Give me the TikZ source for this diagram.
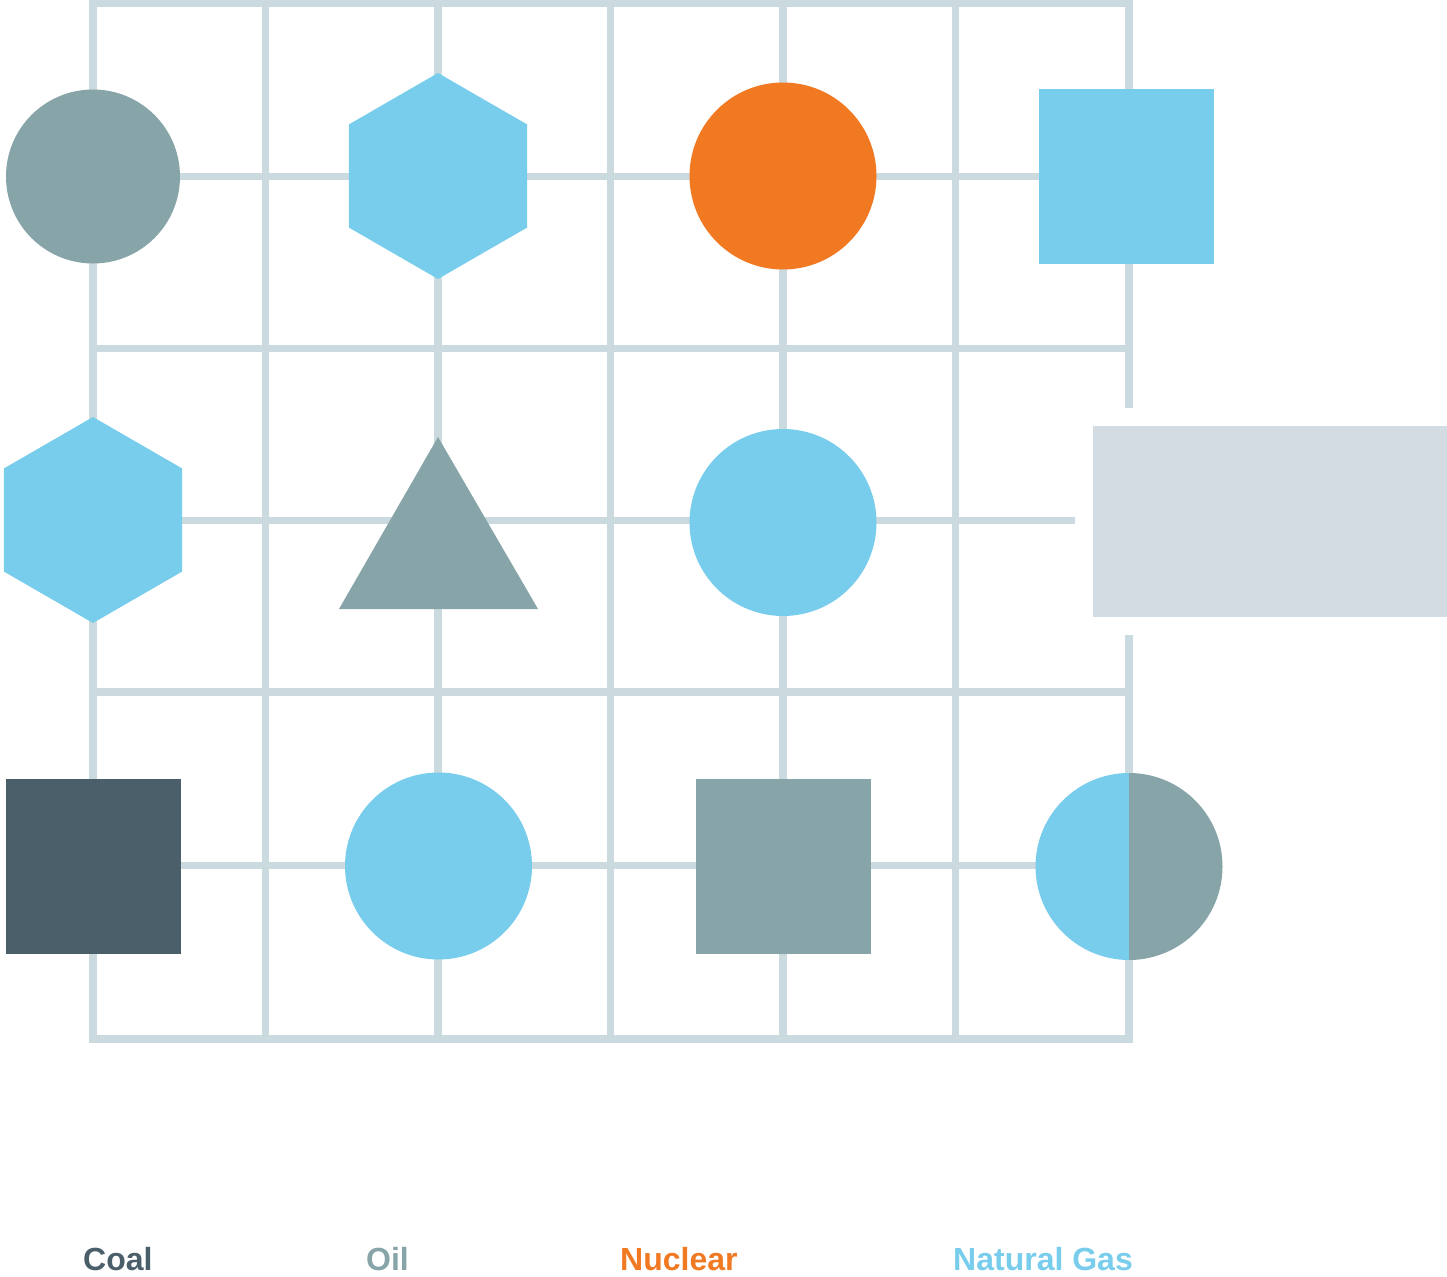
\documentclass[tikz,border=0pt]{standalone}
\usepackage{fontspec}
\setmainfont{Liberation Sans}
\definecolor{coalc}{HTML}{4B5F6A}
\definecolor{oilc}{HTML}{87A5A8}
\definecolor{nucc}{HTML}{F07922}
\definecolor{gasc}{HTML}{78CDEC}
\definecolor{gridc}{HTML}{CBDADF}
\definecolor{boxc}{HTML}{D3DBE3}
\begin{document}
\begin{tikzpicture}[x=1pt,y=-1pt,
  gridline/.style={draw=gridc,line width=7.5pt,line join=miter},
  disc/.style={circle,inner sep=0pt,outer sep=0pt,draw=none,fill=#1},
  sq/.style={rectangle,inner sep=0pt,outer sep=0pt,draw=none,minimum size=175pt,fill=#1},
  legend/.style={anchor=base west,inner sep=0pt,font=\fontsize{32}{38}\selectfont\bfseries,text=#1}]
\useasboundingbox (0,0) rectangle (1447,1276);
% grid
\draw[gridline] (1129,408) -- (1129,3.5) -- (93,3.5) -- (93,1039) -- (1129,1039) -- (1129,635);
\foreach \x in {265.5,438,610.5,783,955.5}
  \draw[gridline] (\x,3.5) -- (\x,1039);
\foreach \y in {176.5,348.5,692,865.5}
  \draw[gridline] (93,\y) -- (1129,\y);
\draw[gridline] (93,520.5) -- (1075,520.5);
% row 1
\node[disc=oilc,minimum size=174pt] (c1) at (93,176.5) {};
\fill[gasc] (438,73)
  \foreach \a in {0,...,4} { -- ++({30+60*\a}:103) } -- cycle;
\coordinate (h1) at (438,176);
\node[disc=nucc,minimum size=187pt] (n1) at (783,176) {};
\node[sq=gasc] (s1) at (1126.5,176.5) {};
% row 2
\fill[gasc] (93,417)
  \foreach \a in {0,...,4} { -- ++({30+60*\a}:103) } -- cycle;
\coordinate (h2) at (93,520);
\fill[oilc] (438,437) -- (538,609) -- (339,609) -- cycle;
\coordinate (t2) at (438,551);
\node[disc=gasc,minimum size=187pt] (g2) at (783,522.5) {};
\node[rectangle,inner sep=0pt,draw=none,fill=boxc,minimum width=354pt,minimum height=191pt] (b2) at (1270,521.5) {};
% row 3
\node[sq=coalc] (s3) at (93.5,866) {};
\node[disc=gasc,minimum size=187pt] (g3) at (438.5,866) {};
\node[sq=oilc] (o3) at (783.5,866) {};
\coordinate (hc) at (1129,866.5);
\fill[gasc] (hc) ++(0,-93.5) arc[start angle=270,end angle=90,radius=93.5] -- cycle;
\fill[oilc] (hc) ++(0,-93.5) arc[start angle=270,end angle=450,radius=93.5] -- cycle;
% legend
\node[legend=coalc] (l1) at (83,1270) {Coal};
\node[legend=oilc] (l2) at (366,1270) {Oil};
\node[legend=nucc] (l3) at (620,1270) {Nuclear};
\node[legend=gasc] (l4) at (953,1270) {Natural Gas};
\end{tikzpicture}
\end{document}
